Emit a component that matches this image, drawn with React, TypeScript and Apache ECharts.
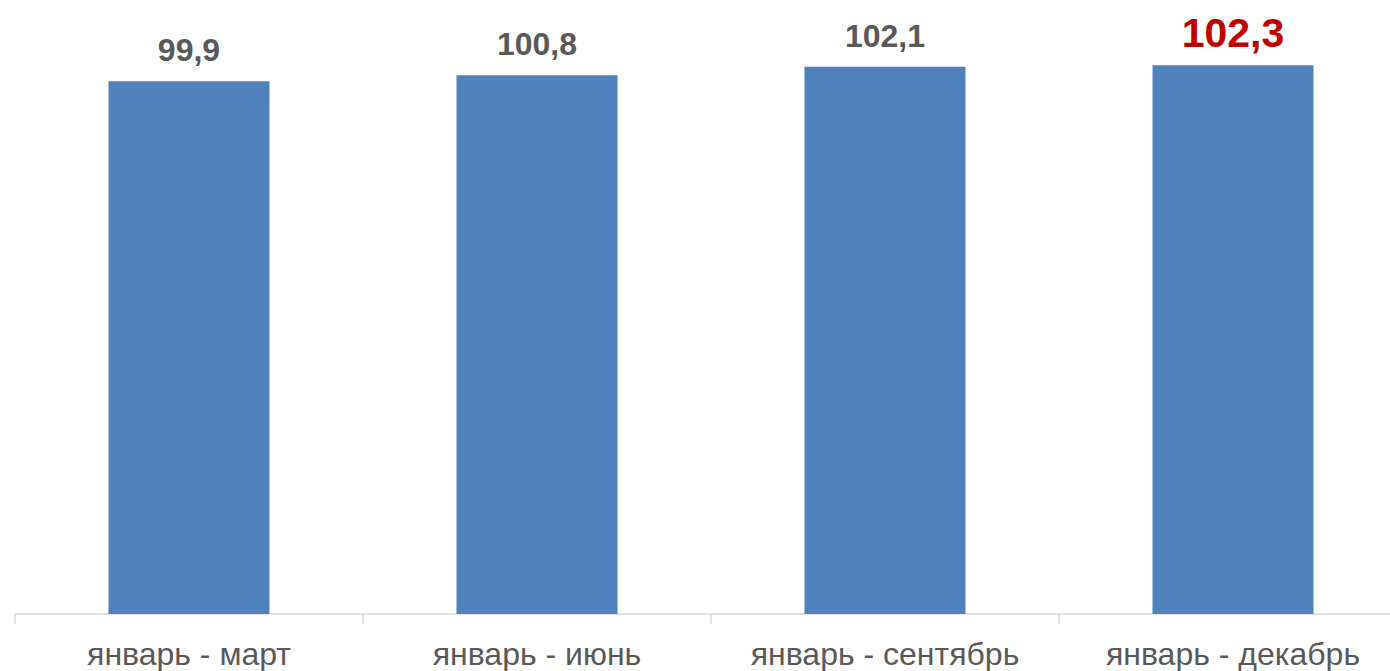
import React, { useEffect, useRef } from "react";
import * as echarts from "echarts";

const categories = ["январь - март", "январь - июнь", "январь - сентябрь", "январь - декабрь"];
const values = [99.9, 100.8, 102.1, 102.3];
const highlightIndex = 3;

export default function App() {
  const ref = useRef<HTMLDivElement>(null);
  useEffect(() => {
    if (!ref.current) return;
    document.body.style.overflow = "hidden";
    document.documentElement.style.overflow = "hidden";
    const chart = echarts.init(ref.current, null, { renderer: "svg" });
    const font = "'Liberation Sans', Arial, sans-serif";
    chart.setOption({
      animation: false,
      grid: { left: 15, top: 14, width: 1392, height: 600, containLabel: false },
      xAxis: {
        type: "category",
        data: categories,
        axisLine: { lineStyle: { color: "#D9D9D9", width: 1.5 } },
        axisTick: { show: true, length: 10, lineStyle: { color: "#D9D9D9", width: 1.5 } },
        axisLabel: { color: "#595959", fontSize: 32, fontFamily: font, margin: 24, interval: 0 },
      },
      yAxis: {
        type: "value",
        min: 20,
        max: 110,
        show: false,
        splitLine: { show: false },
      },
      series: [
        {
          type: "bar",
          barWidth: 161,
          data: values.map((v, i) => ({
            value: v,
            label:
              i === highlightIndex
                ? { color: "#C00000", fontSize: 41, distance: 12 }
                : { color: "#595959", fontSize: 32, distance: 15 },
          })),
          itemStyle: { color: "#4F81BD" },
          label: {
            show: true,
            position: "top",
            fontWeight: "bold",
            fontFamily: font,
            formatter: (p: any) => String(p.value).replace(".", ","),
          },
        },
      ],
    });
    return () => chart.dispose();
  }, []);
  return <div ref={ref} style={{ width: 1430, height: 671, position: "absolute", left: 0, top: 0 }} />;
}
